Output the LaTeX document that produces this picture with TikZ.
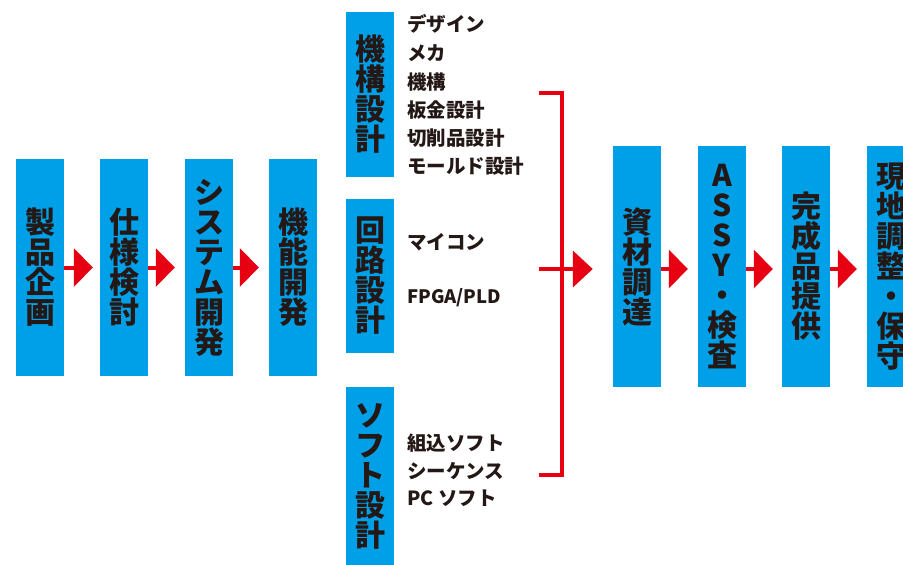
\documentclass[tikz,border=0pt]{standalone}
\usepackage{fontspec}
\newfontfamily\jp{Noto Sans CJK JP}
\usetikzlibrary{arrows.meta}
\definecolor{boxblue}{RGB}{0,160,233}
\definecolor{arrred}{RGB}{230,0,18}
\definecolor{ink}{RGB}{35,24,21}
\tikzset{
  stage/.style={fill=boxblue, text=ink, minimum width=48pt, inner sep=0pt,
    font=\jp\bfseries\fontsize{30}{30}\selectfont, align=center},
  item/.style={anchor=west, text=ink, inner sep=0pt,
    font=\jp\bfseries\fontsize{19.5}{20}\selectfont},
  latinitem/.style={item, font=\jp\bfseries\fontsize{18.5}{20}\selectfont},
  flow/.style={draw=arrred, line width=4pt, -{Triangle[length=19pt,width=38pt]}, shorten >=10pt},
  bracket/.style={draw=arrred, line width=3.5pt}
}
\begin{document}
\begin{tikzpicture}[x=1pt,y=-1pt]
\useasboundingbox (0,0) rectangle (903,565);
% left chain
\node[stage, minimum height=217pt] (b1) at (40,267.5) {製\\品\\企\\画};
\node[stage, minimum height=217pt] (b2) at (124,267.5) {仕\\様\\検\\討};
\node[stage, minimum height=217pt] (b3) at (209,267.5) {シ\\ス\\テ\\ム\\開\\発};
\node[stage, minimum height=217pt] (b4) at (293,267.5) {機\\能\\開\\発};
\draw[flow, shorten >=7pt] (b1) -- (b2);
\draw[flow] (b2) -- (b3);
\draw[flow] (b3) -- (b4);
% design groups
\node[stage, minimum height=165pt] (g1) at (370,94.5) {機\\構\\設\\計};
\node[stage, minimum height=154pt] (g2) at (370,276) {回\\路\\設\\計};
\node[stage, minimum height=179pt] (g3) at (370,476.5) {ソ\\フ\\ト\\設\\計};
% items
\node[item] (i1) at (407,24) {デザイン};
\node[item] (i2) at (407,53) {メカ};
\node[item] (i3) at (407,82) {機構};
\node[item] (i4) at (407,110) {板金設計};
\node[item] (i5) at (407,138) {切削品設計};
\node[item] (i6) at (407,166) {モールド設計};
\node[item] (i7) at (407,242) {マイコン};
\node[latinitem] (i8) at (407,298) {FPGA/PLD};
\node[item] (i9) at (407,443) {組込ソフト};
\node[item] (i10) at (407,471) {シーケンス};
\node[item] (i11) at (407,498) {PC ソフト};
% right chain
\node[stage, minimum height=241pt] (r1) at (637,266.5) {資\\材\\調\\達};
\node[stage, minimum height=241pt] (r2) at (722,266.5) {A\\S\\S\\Y\\・\\検\\査};
\node[stage, minimum height=241pt] (r3) at (806,266.5) {完\\成\\品\\提\\供};
\node[stage, minimum height=241pt] (r4) at (891,266.5) {現\\地\\調\\整\\・\\保\\守};
% bracket
\coordinate (bt) at (539,93);
\coordinate (btr) at (562,93);
\coordinate (bbr) at (562,475);
\coordinate (bb) at (539,475);
\coordinate (bm) at (539,269);
\draw[bracket] (bt) -- (btr) -- (bbr) -- (bb);
\draw[flow, -{Triangle[length=20pt,width=36pt]}, shorten >=20pt] (bm) -- (bm -| r1.west);
\draw[flow] (r1.east |- bm) -- (r2.west |- bm);
\draw[flow, shorten >=9pt] (r2.east |- bm) -- (r3.west |- bm);
\draw[flow] (r3.east |- bm) -- (r4.west |- bm);
\end{tikzpicture}
\end{document}
